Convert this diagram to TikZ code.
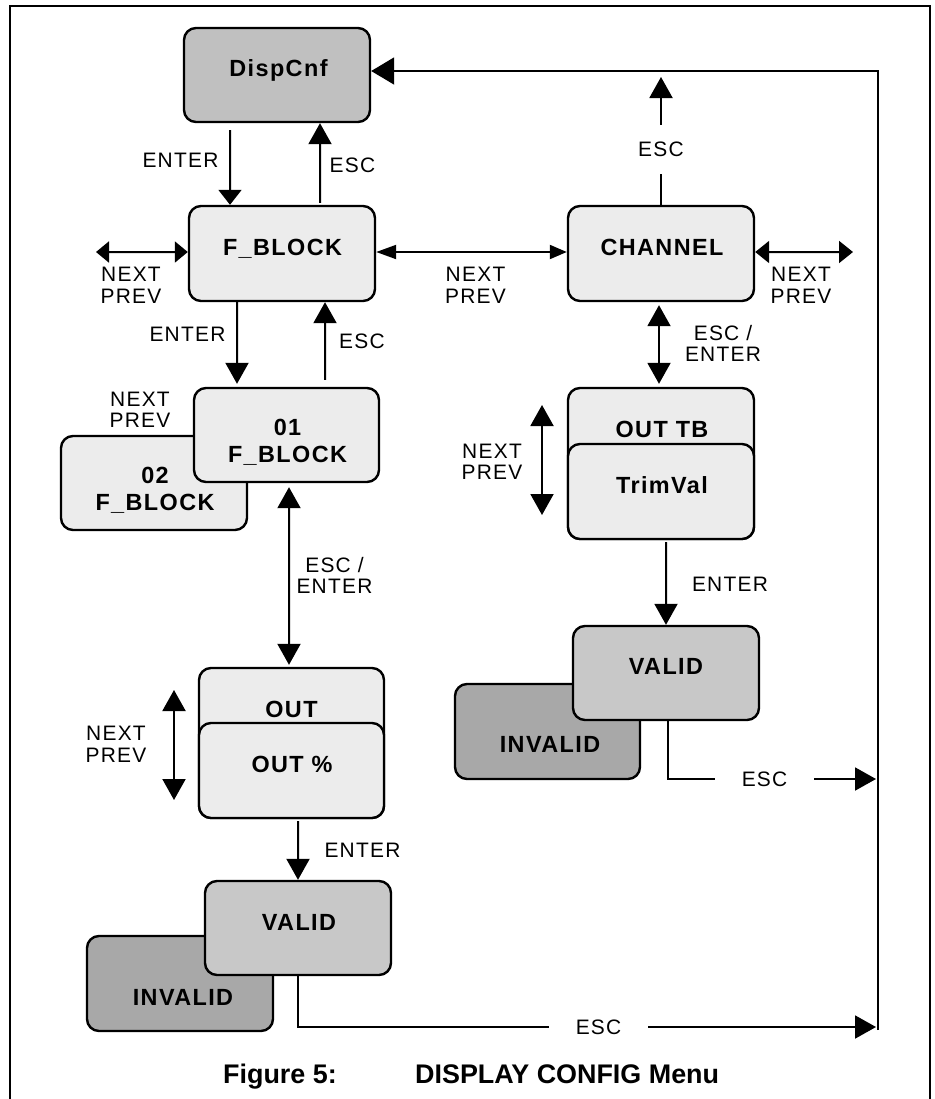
\documentclass[tikz,border=0pt]{standalone}
\usepackage{fontspec}
\setmainfont{Liberation Sans}
\newfontfamily\lblfont[LetterSpace=6]{Liberation Sans}
\usetikzlibrary{arrows.meta,calc}
\definecolor{boxpale}{HTML}{ECECEC}
\definecolor{dispgray}{HTML}{C0C0C0}
\definecolor{validgray}{HTML}{C8C8C8}
\definecolor{invgray}{HTML}{A8A8A8}
\begin{document}
\begin{tikzpicture}[x=1bp,y=-1bp,
  box/.style={draw=black, line width=2.4bp, rounded corners=12bp, inner sep=0pt},
  pale/.style={box, fill=boxpale},
  boxtxt/.style={inner sep=0pt, text depth=0pt, align=center,
    font=\lblfont\bfseries\fontsize{23.5}{27}\selectfont},
  lbl/.style={inner sep=0pt, text depth=0pt, align=center,
    font=\lblfont\fontsize{21}{21.5}\selectfont},
  gaplbl/.style={lbl, fill=white},
  conn/.style={draw=black, line width=2bp},
  tip/.tip={Triangle[length=21bp,width=23bp]},
  arr/.style={conn, -tip},
  dbl/.style={conn, tip-tip},
]
\useasboundingbox (0,0) rectangle (935,1099);

% page frame, open at the bottom
\draw[line width=1.8bp] (10,1110) -- (10,6) -- (930,6) -- (930,1110);

% ---- menu boxes ----
\node[box, fill=dispgray, minimum width=186bp, minimum height=94bp] (dispcnf) at (277,75) {};
\node[pale, minimum width=186bp, minimum height=95bp] (fblock) at (282,253.5) {};
\node[pale, minimum width=186bp, minimum height=95bp] (channel) at (661,253.5) {};
\node[pale, minimum width=186bp, minimum height=94bp] (fb02) at (154,483) {};
\node[pale, minimum width=185bp, minimum height=94bp] (fb01) at (286.5,435) {};
\node[pale, minimum width=186bp, minimum height=151bp] (outtb) at (661,463.5) {};
\node[pale, minimum width=186bp, minimum height=95bp] (trimval) at (661,491.5) {};
\node[box, fill=invgray, minimum width=185bp, minimum height=95bp] (invalidR) at (547.5,731.5) {};
\node[box, fill=validgray, minimum width=186bp, minimum height=94bp] (validR) at (666,673) {};
\node[pale, minimum width=185bp, minimum height=150bp] (out) at (291.5,743) {};
\node[pale, minimum width=185bp, minimum height=95bp] (outpct) at (291.5,770.5) {};
\node[box, fill=invgray, minimum width=186bp, minimum height=95bp] (invalidL) at (180,983.5) {};
\node[box, fill=validgray, minimum width=186bp, minimum height=94bp] (validL) at (298,928) {};

% ---- box captions ----
\node[boxtxt] (tDisp) at (278.5,68.5) {DispCnf};
\node[boxtxt] (tFblock) at (282.5,247.5) {F\_BLOCK};
\node[boxtxt] (tChannel) at (662,247.5) {CHANNEL};
\node[boxtxt] (tFb01) at (287.5,440.5) {01\\F\_BLOCK};
\node[boxtxt] (tFb02) at (155,489) {02\\F\_BLOCK};
\node[boxtxt] (tOuttb) at (662,429) {OUT TB};
\node[boxtxt] (tTrim) at (662,485.5) {TrimVal};
\node[boxtxt] (tValidR) at (666,666.5) {VALID};
\node[boxtxt] (tInvalidR) at (550,744.5) {INVALID};
\node[boxtxt] (tOut) at (291.5,709) {OUT};
\node[boxtxt] (tOutpct) at (292,764.5) {OUT \%};
\node[boxtxt] (tValidL) at (299,922) {VALID};
\node[boxtxt] (tInvalidL) at (183,997) {INVALID};

% ---- free ends of connectors ----
\coordinate (busB) at (878,1030);
\coordinate (fbL) at (96,252);
\coordinate (chR) at (853,252);
\coordinate (chEsc) at (661,77);
\coordinate (otU) at (542,405);
\coordinate (otD) at (542,515);
\coordinate (oU) at (174,690);
\coordinate (oD) at (174,800);
\coordinate (escRe) at (876,779);
\coordinate (escLe) at (876,1027);

% ---- connectors ----
\draw[conn, -{Triangle[length=23bp,width=27bp]}] (busB) |- ([yshift=4bp]dispcnf.east);
\draw[conn, -{Triangle[length=15bp,width=23bp]}] ([xshift=-47bp,yshift=-7bp]dispcnf.south) -- ([xshift=-52bp]fblock.north);
\draw[arr] ([xshift=38bp,yshift=2bp]fblock.north) -- ([xshift=43bp]dispcnf.south);
\draw[conn, {Triangle[length=13bp,width=21bp]}-{Triangle[length=13bp,width=21bp]}] (fbL) -- ([yshift=1.5bp]fblock.west);
\draw[conn, {Triangle[length=20bp,width=14bp]}-{Triangle[length=17bp,width=14bp]}] ([yshift=1.5bp]fblock.east) -- ([yshift=1.5bp]channel.west);
\draw[conn, {Triangle[length=14bp,width=22bp]}-{Triangle[length=14bp,width=22bp]}] ([yshift=1.5bp]channel.east) -- (chR);
\draw[arr] (channel.north) -- (chEsc)
  node[pos=0.434, gaplbl, minimum height=49bp] (lEsc2) {ESC};
\draw[dbl] ([xshift=-2bp,yshift=-3bp]channel.south) -- ([xshift=-2bp,yshift=3bp]outtb.north);
\draw[dbl] (otU) -- (otD);
\draw[arr] ([xshift=5bp,yshift=-2bp]trimval.south) -- (validR.north);
\draw[arr] ([xshift=2bp]validR.south) |- (escRe)
  node[pos=0.732, gaplbl, minimum width=99bp, minimum height=8bp] (lEsc4) {ESC};

\draw[arr] ([xshift=-45bp]fblock.south) -- ([xshift=-49.5bp,yshift=3bp]fb01.north);
\draw[arr] ([xshift=38.5bp,yshift=7bp]fb01.north) -- ([xshift=43bp]fblock.south);
\draw[dbl] ([xshift=2.5bp,yshift=-4bp]fb01.south) -- ([xshift=-2.5bp,yshift=2bp]out.north);
\draw[dbl] (oU) -- (oD);
\draw[arr] ([xshift=6.5bp,yshift=-2bp]outpct.south) -- (validL.north);
\draw[arr] (validL.south) |- (escLe)
  node[pos=0.76, gaplbl, minimum width=99bp, minimum height=8bp] (lEsc5) {ESC};

% ---- key labels ----
\node[lbl] (lEnter1) at (180.5,160.5) {ENTER};
\node[lbl] (lEsc1) at (352.5,165.5) {ESC};
\node[lbl] (lNP1) at (131,285.5) {NEXT\\PREV};
\node[lbl] (lNP2) at (475.5,285.5) {NEXT\\PREV};
\node[lbl] (lNP3) at (801,285.5) {NEXT\\PREV};
\node[lbl] (lEscEnt1) at (723,343.5) {ESC /\\ENTER};
\node[lbl] (lNP4) at (492,462) {NEXT\\PREV};
\node[lbl] (lEnter2) at (730,584) {ENTER};
\node[lbl] (lEnter3) at (187.5,334) {ENTER};
\node[lbl] (lEsc3) at (362,341) {ESC};
\node[lbl] (lNP5) at (140,410) {NEXT\\PREV};
\node[lbl] (lEscEnt2) at (334.5,575.5) {ESC /\\ENTER};
\node[lbl] (lNP6) at (116,744.5) {NEXT\\PREV};
\node[lbl] (lEnter4) at (362.5,850) {ENTER};

% ---- figure caption ----
\node[anchor=base west, inner sep=0pt, font=\bfseries\fontsize{27}{30}\selectfont] (capNum) at (223,1083) {Figure 5:};
\node[anchor=base west, inner sep=0pt, font=\bfseries\fontsize{27}{30}\selectfont] (capTitle) at (415,1083) {DISPLAY CONFIG Menu};
\end{tikzpicture}
\end{document}
